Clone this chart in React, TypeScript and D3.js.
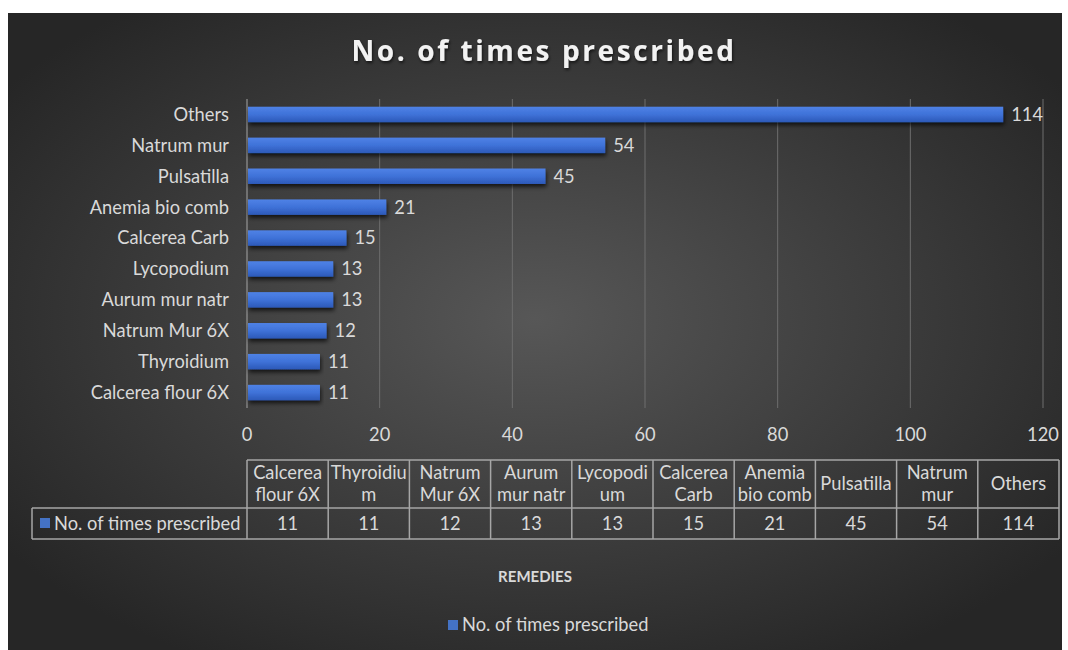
import React from "react";
import * as d3 from "d3";

const categories = [
  "Others",
  "Natrum mur",
  "Pulsatilla",
  "Anemia bio comb",
  "Calcerea Carb",
  "Lycopodium",
  "Aurum mur natr",
  "Natrum Mur 6X",
  "Thyroidium",
  "Calcerea flour 6X",
];
const values = [114, 54, 45, 21, 15, 13, 13, 12, 11, 11];
const tableOrder = [
  "Calcerea flour 6X",
  "Thyroidium",
  "Natrum Mur 6X",
  "Aurum mur natr",
  "Lycopodium",
  "Calcerea Carb",
  "Anemia bio comb",
  "Pulsatilla",
  "Natrum mur",
  "Others",
];
const tableHeaderLines = [
  ["Calcerea", "flour 6X"],
  ["Thyroidiu", "m"],
  ["Natrum", "Mur 6X"],
  ["Aurum", "mur natr"],
  ["Lycopodi", "um"],
  ["Calcerea", "Carb"],
  ["Anemia", "bio comb"],
  ["Pulsatilla"],
  ["Natrum", "mur"],
  ["Others"],
];
const xTicks = [0, 20, 40, 60, 80, 100, 120];
const seriesName = "No. of times prescribed";
const title = "No. of times prescribed";
const axisTitle = "REMEDIES";

const W = 1068;
const H = 650;
const FONT = "Lato, 'Open Sans', sans-serif";
const TXT = "#d9d9d9";
const FS = 18.3;

export default function App() {
  const x = d3.scaleLinear().domain([0, 120]).range([247, 1043]);
  const y = d3.scaleBand().domain(categories).range([99, 408]).paddingInner(0.5).paddingOuter(0.25);
  const valueOf = (c: string) => values[categories.indexOf(c)];

  const tx = d3.scaleBand().domain(tableOrder).range([247, 1059]);
  const tTop = 460, tMid = 508, tBot = 539, legendLeft = 32;

  return (
    <svg width={W} height={H} style={{ position: "absolute", left: 0, top: 0, display: "block" }}>
      <defs>
        <radialGradient id="bg" cx="50%" cy="48%" r="62%">
          <stop offset="0%" stopColor="#575757" />
          <stop offset="100%" stopColor="#262626" />
        </radialGradient>
        <linearGradient id="bar" x1="0" y1="0" x2="0" y2="1">
          <stop offset="0%" stopColor="#4f82e6" />
          <stop offset="50%" stopColor="#3f72d8" />
          <stop offset="100%" stopColor="#2c59b8" />
        </linearGradient>
        <filter id="shadow" x="-5%" y="-50%" width="110%" height="250%">
          <feGaussianBlur in="SourceAlpha" stdDeviation="2" />
          <feOffset dx="1" dy="3" result="b" />
          <feComponentTransfer>
            <feFuncA type="linear" slope="0.7" />
          </feComponentTransfer>
          <feMerge>
            <feMergeNode />
            <feMergeNode in="SourceGraphic" />
          </feMerge>
        </filter>
        <filter id="tshadow">
          <feGaussianBlur in="SourceAlpha" stdDeviation="1.5" />
          <feOffset dx="1" dy="2" />
          <feComponentTransfer>
            <feFuncA type="linear" slope="0.6" />
          </feComponentTransfer>
          <feMerge>
            <feMergeNode />
            <feMergeNode in="SourceGraphic" />
          </feMerge>
        </filter>
      </defs>
      <rect x={0} y={0} width={W} height={H} fill="#ffffff" />
      <rect x={8} y={13} width={1054} height={H - 13} fill="url(#bg)" />

      <text
        x={544}
        y={61}
        textAnchor="middle"
        fontFamily="'Open Sans', sans-serif"
        fontWeight="bold"
        fontSize={28}
        fill="#f2f2f2"
        letterSpacing={2.6}
        filter="url(#tshadow)"
      >
        {title}
      </text>

      {/* gridlines */}
      {xTicks.map((t) => (
        <line key={t} x1={x(t)} x2={x(t)} y1={99} y2={408} stroke={t === 0 ? "#a6a6a6" : "#6e6e6e"} strokeWidth={1} />
      ))}

      {/* bars */}
      {categories.map((c, i) => (
        <g key={c}>
          <rect
            x={x(0) + 1}
            y={y(c)!}
            width={x(values[i]) - x(0) - 1}
            height={y.bandwidth()}
            fill="url(#bar)"
            filter="url(#shadow)"
          />
          <text
            x={x(values[i]) + 8}
            y={y(c)! + y.bandwidth() / 2}
            dy="0.35em"
            fontFamily={FONT}
            fontSize={FS}
            fill={TXT}
          >
            {values[i]}
          </text>
          <text
            x={229}
            y={y(c)! + y.bandwidth() / 2}
            dy="0.35em"
            textAnchor="end"
            fontFamily={FONT}
            fontSize={FS}
            fill={TXT}
          >
            {c}
          </text>
        </g>
      ))}

      {/* tick labels */}
      {xTicks.map((t) => (
        <text key={t} x={x(t)} y={441} textAnchor="middle" fontFamily={FONT} fontSize={FS} fill={TXT}>
          {t}
        </text>
      ))}

      {/* data table */}
      <g stroke="#a6a6a6" strokeWidth={1.5} fill="none">
        <line x1={247} x2={1059} y1={tTop} y2={tTop} />
        <line x1={legendLeft} x2={1059} y1={tMid} y2={tMid} />
        <line x1={legendLeft} x2={1059} y1={tBot} y2={tBot} />
        <line x1={legendLeft} x2={legendLeft} y1={tMid} y2={tBot} />
        {tableOrder.map((c) => (
          <line key={c} x1={tx(c)!} x2={tx(c)!} y1={tTop} y2={tBot} />
        ))}
        <line x1={1059} x2={1059} y1={tTop} y2={tBot} />
      </g>
      {tableOrder.map((c, i) => {
        const cx = tx(c)! + tx.bandwidth() / 2;
        const lines = tableHeaderLines[i];
        const midY = (tTop + tMid) / 2;
        return (
          <g key={c}>
            {lines.map((ln, j) => (
              <text
                key={j}
                x={cx}
                y={midY + (j - (lines.length - 1) / 2) * 22}
                dy="0.35em"
                textAnchor="middle"
                fontFamily={FONT}
                fontSize={FS}
                fill={TXT}
              >
                {ln}
              </text>
            ))}
            <text
              x={cx}
              y={(tMid + tBot) / 2}
              dy="0.35em"
              textAnchor="middle"
              fontFamily={FONT}
              fontSize={FS}
              fill={TXT}
            >
              {valueOf(c)}
            </text>
          </g>
        );
      })}
      <rect x={40} y={518} width={10} height={10} fill="#4472c4" />
      <text x={54} y={(tMid + tBot) / 2} dy="0.35em" fontFamily={FONT} fontSize={FS} fill={TXT}>
        {seriesName}
      </text>

      <text x={535} y={582} textAnchor="middle" fontFamily={FONT} fontWeight="bold" fontSize={15} fill={TXT}>
        {axisTitle}
      </text>

      {/* legend */}
      <rect x={448} y={620} width={10} height={10} fill="#4472c4" />
      <text x={462} y={625} dy="0.35em" fontFamily={FONT} fontSize={FS} fill={TXT}>
        {seriesName}
      </text>
    </svg>
  );
}
